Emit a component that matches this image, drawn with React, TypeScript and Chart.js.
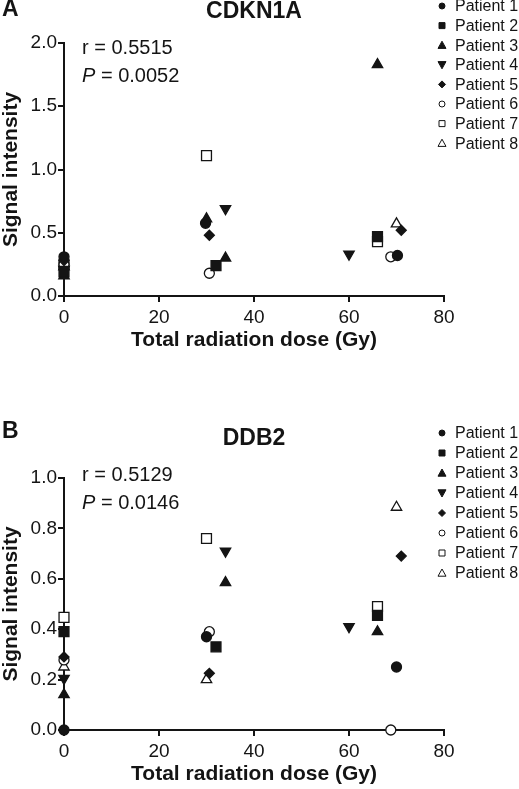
import React, { useEffect, useRef } from 'react';
import { Chart, registerables } from 'chart.js';

Chart.register(...registerables);

const FONT = '"Liberation Sans", Arial, Helvetica, sans-serif';
const INK = '#141414';

const patients = ['Patient 1', 'Patient 2', 'Patient 3', 'Patient 4', 'Patient 5', 'Patient 6', 'Patient 7', 'Patient 8'];
const pointStyles = ['circle', 'rect', 'triangle', 'triangle', 'rectRot', 'circle', 'rect', 'triangle'];
const pointRotations = [0, 0, 0, 180, 0, 0, 0, 0];
const pointFilled = [true, true, true, true, true, false, false, false];
const pointRadii = [5, 7, 6, 6, 5, 5, 7, 6];

const doseTicks = [0, 20, 40, 60, 80];
const cdkn1aTicks = [0, 0.5, 1.0, 1.5, 2.0];
const ddb2Ticks = [0, 0.2, 0.4, 0.6, 0.8, 1.0];

// CDKN1A: total radiation dose (Gy) and signal intensity, per patient
const cdkn1aDose = [
  [0, 29.8, 70.2],
  [0, 32, 66],
  [0, 30, 34, 66],
  [0, 34, 60],
  [0, 30.6, 71],
  [0, 30.6, 68.8],
  [0, 30, 66],
  [0, 70],
];
const cdkn1aSignal = [
  [0.31, 0.575, 0.32],
  [0.19, 0.24, 0.47],
  [0.16, 0.61, 0.30, 1.83],
  [0.21, 0.69, 0.33],
  [0.28, 0.48, 0.52],
  [0.25, 0.18, 0.31],
  [0.25, 1.11, 0.43],
  [0.23, 0.57],
];

// DDB2: total radiation dose (Gy) and signal intensity, per patient
const ddb2Dose = [
  [0, 30, 70],
  [0, 32, 66],
  [0, 34, 66],
  [0, 34, 60],
  [0, 30.6, 71],
  [0, 30.6, 68.8],
  [0, 30, 66],
  [0, 30, 70],
];
const ddb2Signal = [
  [0.0, 0.37, 0.25],
  [0.39, 0.33, 0.455],
  [0.14, 0.585, 0.39],
  [0.205, 0.71, 0.41],
  [0.29, 0.225, 0.69],
  [0.278, 0.39, 0.0],
  [0.447, 0.76, 0.49],
  [0.25, 0.20, 0.884],
];

type PanelCfg = {
  letter: string;
  title: string;
  dose: number[][];
  signal: number[][];
  yMax: number;
  yTicks: number[];
  rText: string;
  pText: string;
  canvasHeight: number;
  titlePadTop: number;
  titlePadBottom: number;
  padBottom: number;
  letterY: number;
  rY: number;
  pY: number;
  legendY: number;
  legendStep: number;
};

const panelA: PanelCfg = {
  letter: 'A',
  title: 'CDKN1A',
  dose: cdkn1aDose,
  signal: cdkn1aSignal,
  yMax: 2,
  yTicks: cdkn1aTicks,
  rText: 'r = 0.5515',
  pText: ' = 0.0052',
  canvasHeight: 394,
  titlePadTop: 0.5,
  titlePadBottom: 19.5,
  padBottom: 43,
  letterY: 10,
  rY: 48,
  pY: 76,
  legendY: 6,
  legendStep: 19.6,
};

const panelB: PanelCfg = {
  letter: 'B',
  title: 'DDB2',
  dose: ddb2Dose,
  signal: ddb2Signal,
  yMax: 1,
  yTicks: ddb2Ticks,
  rText: 'r = 0.5129',
  pText: ' = 0.0146',
  canvasHeight: 395,
  titlePadTop: 33,
  titlePadBottom: 28,
  padBottom: 4,
  letterY: 38,
  rY: 81,
  pY: 109,
  legendY: 39,
  legendStep: 20,
};

function drawMarker(ctx: CanvasRenderingContext2D, style: string, rot: number, x: number, y: number, r: number, filled: boolean) {
  ctx.beginPath();
  if (style === 'circle') {
    ctx.arc(x, y, r, 0, Math.PI * 2);
  } else if (style === 'rect') {
    ctx.rect(x - r, y - r, 2 * r, 2 * r);
  } else if (style === 'rectRot') {
    ctx.moveTo(x, y - r);
    ctx.lineTo(x + r, y);
    ctx.lineTo(x, y + r);
    ctx.lineTo(x - r, y);
  } else if (rot === 180) {
    ctx.moveTo(x - r, y - r * 0.8);
    ctx.lineTo(x + r, y - r * 0.8);
    ctx.lineTo(x, y + r);
  } else {
    ctx.moveTo(x - r, y + r * 0.8);
    ctx.lineTo(x + r, y + r * 0.8);
    ctx.lineTo(x, y - r);
  }
  ctx.closePath();
  ctx.fillStyle = filled ? INK : '#ffffff';
  ctx.fill();
  ctx.lineWidth = 1;
  ctx.strokeStyle = INK;
  ctx.stroke();
}

const legendRadii = [3, 3, 4, 4, 3.5, 3, 3, 4];

function makeDecorPlugin(cfg: PanelCfg) {
  return {
    id: 'decor' + cfg.letter,
    afterDraw(chart: any) {
      const ctx: CanvasRenderingContext2D = chart.ctx;
      ctx.save();
      ctx.fillStyle = INK;
      ctx.textBaseline = 'middle';
      // panel letter
      ctx.font = `bold 23px ${FONT}`;
      ctx.textAlign = 'left';
      ctx.fillText(cfg.letter, 2, cfg.letterY);
      // correlation annotation
      ctx.font = `20px ${FONT}`;
      ctx.fillText(cfg.rText, 82, cfg.rY);
      ctx.font = `italic 20px ${FONT}`;
      ctx.fillText('P', 82, cfg.pY);
      const pw = ctx.measureText('P').width;
      ctx.font = `20px ${FONT}`;
      ctx.fillText(cfg.pText, 82 + pw, cfg.pY);
      // legend
      ctx.font = `16px ${FONT}`;
      patients.forEach((name, i) => {
        const y = cfg.legendY + i * cfg.legendStep;
        drawMarker(ctx, pointStyles[i], pointRotations[i], 442, y, legendRadii[i], pointFilled[i]);
        ctx.fillStyle = INK;
        ctx.textAlign = 'left';
        ctx.textBaseline = 'middle';
        ctx.fillText(name, 455, y + 1);
      });
      ctx.restore();
    },
  };
}

function Panel({ cfg, top }: { cfg: PanelCfg; top: number }) {
  const ref = useRef<HTMLCanvasElement>(null);
  useEffect(() => {
    if (!ref.current) return;
    const datasets = patients.map((name, i) => ({
      label: name,
      data: cfg.dose[i].map((d, j) => ({ x: d, y: cfg.signal[i][j] })),
      pointStyle: pointStyles[i],
      rotation: pointRotations[i],
      pointRotation: pointRotations[i],
      pointRadius: pointRadii[i],
      pointHoverRadius: pointRadii[i],
      pointBackgroundColor: pointFilled[i] ? INK : '#ffffff',
      pointBorderColor: INK,
      pointBorderWidth: 1.3,
      showLine: false,
      clip: false as any,
    }));
    const chart = new Chart(ref.current, {
      type: 'scatter',
      data: { datasets },
      options: {
        animation: false,
        responsive: false,
        events: [],
        layout: { padding: { left: 0, right: 75, top: 0, bottom: cfg.padBottom } },
        plugins: {
          legend: { display: false },
          tooltip: { enabled: false },
          title: {
            display: true,
            text: cfg.title,
            fullSize: false,
            color: INK,
            font: { family: FONT, size: 23, weight: 'bold', lineHeight: 1 },
            padding: { top: cfg.titlePadTop, bottom: cfg.titlePadBottom },
          },
        },
        scales: {
          x: {
            type: 'linear',
            min: 0,
            max: 80,
            afterBuildTicks: (s: any) => {
              s.ticks = doseTicks.map((v) => ({ value: v }));
            },
            afterFit: (s: any) => {
              s.height = 55;
            },
            ticks: {
              color: INK,
              font: { family: FONT, size: 19 },
              padding: 4,
              callback: (v: any) => String(v),
            },
            grid: { drawOnChartArea: false, drawTicks: true, tickLength: 6, color: INK, lineWidth: 2 },
            border: { display: true, color: INK, width: 2 },
            title: {
              display: true,
              text: 'Total radiation dose (Gy)',
              color: INK,
              font: { family: FONT, size: 21, weight: 'bold', lineHeight: 1 },
              padding: 0,
            },
          },
          y: {
            type: 'linear',
            min: 0,
            max: cfg.yMax,
            afterBuildTicks: (s: any) => {
              s.ticks = cfg.yTicks.map((v) => ({ value: v }));
            },
            afterFit: (s: any) => {
              s.width = 64;
            },
            ticks: {
              color: INK,
              font: { family: FONT, size: 19 },
              padding: 1,
              callback: (v: any) => Number(v).toFixed(1),
            },
            grid: { drawOnChartArea: false, drawTicks: true, tickLength: 6, color: INK, lineWidth: 2 },
            border: { display: true, color: INK, width: 2 },
            title: {
              display: true,
              text: 'Signal intensity',
              color: INK,
              font: { family: FONT, size: 21, weight: 'bold', lineHeight: 1.1 },
              padding: 0,
            },
          },
        },
      } as any,
      plugins: [makeDecorPlugin(cfg)],
    });
    return () => chart.destroy();
  }, [cfg]);
  return (
    <div style={{ position: 'absolute', left: 0, top, width: 519, height: cfg.canvasHeight }}>
      <canvas ref={ref} width={519} height={cfg.canvasHeight} style={{ width: 519, height: cfg.canvasHeight, display: 'block' }} />
    </div>
  );
}

export default function App() {
  return (
    <div style={{ position: 'absolute', left: 0, top: 0, width: 519, height: 789, background: '#ffffff' }}>
      <Panel cfg={panelA} top={0} />
      <Panel cfg={panelB} top={394} />
    </div>
  );
}
